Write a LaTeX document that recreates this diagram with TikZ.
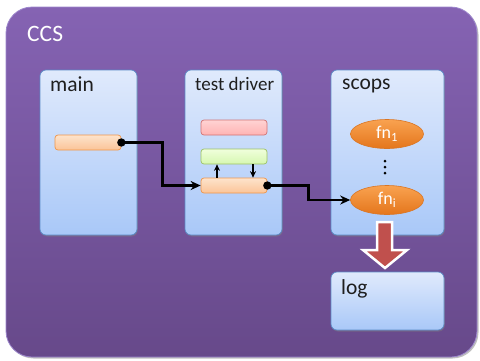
\documentclass[tikz,border=0pt]{standalone}
\usepackage{fontspec}
\setmainfont{Carlito}
\usetikzlibrary{arrows.meta,shadows,shapes.geometric}
\definecolor{purpT}{HTML}{8563B3}
\definecolor{purpB}{HTML}{67498A}
\definecolor{purpE}{HTML}{9C86CC}
\definecolor{boxT}{HTML}{E0EAFC}
\definecolor{boxB}{HTML}{A9C8F8}
\definecolor{boxE}{HTML}{5B8BC7}
\definecolor{orT}{HTML}{FDE3CC}
\definecolor{orB}{HTML}{FBC497}
\definecolor{orE}{HTML}{F0964A}
\definecolor{pkT}{HTML}{FFD3D3}
\definecolor{pkB}{HTML}{FFB3B3}
\definecolor{pkE}{HTML}{D27373}
\definecolor{grT}{HTML}{F0FFDC}
\definecolor{grB}{HTML}{D6F7B0}
\definecolor{grE}{HTML}{9DC266}
\definecolor{fnT}{HTML}{F9A250}
\definecolor{fnB}{HTML}{E4761C}
\definecolor{fnE}{HTML}{DA7624}
\definecolor{bigR}{HTML}{C0504D}
\begin{document}
\begin{tikzpicture}[x=1pt,y=-1pt,
  outerbox/.style={draw=purpE,line width=0.8pt,rounded corners=26pt,top color=purpT,bottom color=purpB,
    minimum width=471pt,minimum height=350pt,inner sep=0pt,
    drop shadow={shadow xshift=1.5pt,shadow yshift=-1.5pt,opacity=0.5}},
  panel/.style={draw=boxE,line width=0.7pt,rounded corners=6pt,top color=boxT,bottom color=boxB,
    inner sep=0pt,minimum height=165pt,
    drop shadow={shadow xshift=0.8pt,shadow yshift=-1.5pt,opacity=0.45}},
  bar/.style={line width=0.7pt,rounded corners=3pt,minimum width=66pt,minimum height=15pt,inner sep=0pt},
  orbar/.style={bar,draw=orE,top color=orT,bottom color=orB},
  pkbar/.style={bar,draw=pkE,top color=pkT,bottom color=pkB},
  grbar/.style={bar,draw=grE,top color=grT,bottom color=grB},
  fn/.style={ellipse,draw=fnE,line width=0.6pt,top color=fnT,bottom color=fnB,minimum width=73pt,
    minimum height=29pt,inner sep=0pt,text=white,font=\fontsize{18}{20}\selectfont},
  lbl/.style={anchor=base west,inner sep=0pt,text=black!88,font=\fontsize{21.5}{24}\selectfont},
  conn/.style={line width=2.6pt,-{Stealth[length=10pt,width=9pt]}},
  small/.style={line width=1.5pt,-{Stealth[length=6.5pt,width=6pt]}}
]
\useasboundingbox (0,0) rectangle (480,360);
\node[outerbox] (ccs) at (241.5,182) {};
\node[anchor=base west,inner sep=0pt,text=white,font=\fontsize{23.5}{27}\selectfont] (ccst) at (27,41) {CCS};

\node[panel,minimum width=97pt] (main) at (88.5,152.5) {};
\node[panel,minimum width=97pt] (td) at (233.5,152.5) {};
\node[panel,minimum width=113pt] (scops) at (387.5,152.5) {};
\node[panel,minimum width=113pt,minimum height=58pt] (log) at (387.5,301) {};

\node[lbl] (mainl) at (50,91) {main};
\node[lbl,font=\fontsize{19}{22}\selectfont] (tdl) at (195,90) {test driver};
\node[lbl] (scopsl) at (342,89) {scops};
\node[lbl] (logl) at (341,294) {log};

\node[orbar] (mbar) at (88,142.5) {};
\node[pkbar] (tdp) at (234,127.5) {};
\node[grbar] (tdg) at (234,156.5) {};
\node[orbar] (tdo) at (234,185.5) {};

\node[fn] (fn1) at (387,134) {fn\textsubscript{1}};
\node[fn] (fni) at (387,200) {fn\textsubscript{i}};
\foreach \yy in {161,167,173} \fill (385,\yy) circle (1.5);

\draw[small] ([xshift=-17pt]tdo.north) -- ([xshift=-17pt]tdg.south);
\draw[small] ([xshift=19pt]tdg.south) -- ([xshift=19pt]tdo.north);

\draw[conn] (mbar.east) -- ++(41,0) |- (tdo.west);
\fill (mbar.east) circle (4.2);
\draw[conn] (tdo.east) -- ++(41,0) |- (fni.west);
\fill (tdo.east) circle (4.2);

\draw[white,line width=2.5pt,fill=bigR,line join=miter]
  (377,222) -- (392,222) -- (392,250) -- (407,250) -- (385,268) -- (363,250) -- (377,250) -- cycle;
\end{tikzpicture}
\end{document}
